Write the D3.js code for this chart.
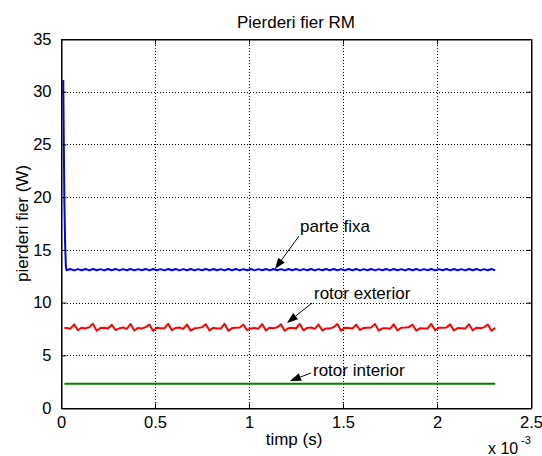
<!DOCTYPE html>
<html>
<head>
<meta charset="utf-8">
<script src="https://cdn.jsdelivr.net/npm/d3@7"></script>
<style>
  html, body { margin: 0; padding: 0; background: #fff; }
  svg { display: block; font-family: "Liberation Sans", Arial, sans-serif; }
</style>
</head>
<body>
<svg id="chart" width="542" height="456"></svg>
<script>
// ---- data (time in ms, i.e. axis units x 10^-3 s) ----
const xTickValues = [0, 0.5, 1, 1.5, 2, 2.5];
const xTickLabels = ["0", "0.5", "1", "1.5", "2", "2.5"];
const yTickValues = [0, 5, 10, 15, 20, 25, 30, 35];
const yTickLabels = ["0", "5", "10", "15", "20", "25", "30", "35"];

const sampleStart = 0.03, sampleStep = 0.02, sampleCount = 115;

// parte fixa: start transient
const blueStartT = [0.012, 0.015, 0.018, 0.022, 0.026];
const blueStartV = [31.1, 25.0, 19.5, 15.5, 13.4];
const blueValues = [
  13.06,13.18,13.05,13.17,13.06,13.19,13.05,13.18,13.06,13.17,
  13.05,13.18,13.06,13.19,13.05,13.17,13.06,13.18,13.05,13.17,
  13.06,13.19,13.05,13.18,13.06,13.17,13.05,13.18,13.06,13.19,
  13.05,13.17,13.06,13.18,13.05,13.17,13.06,13.19,13.05,13.18,
  13.06,13.17,13.05,13.18,13.06,13.19,13.05,13.17,13.06,13.18,
  13.05,13.17,13.06,13.19,13.05,13.18,13.06,13.17,13.05,13.18,
  13.06,13.19,13.05,13.17,13.06,13.18,13.05,13.17,13.06,13.19,
  13.05,13.18,13.06,13.17,13.05,13.18,13.06,13.19,13.05,13.17,
  13.06,13.18,13.05,13.17,13.06,13.19,13.05,13.18,13.06,13.17,
  13.05,13.18,13.06,13.19,13.05,13.17,13.06,13.18,13.05,13.17,
  13.06,13.19,13.05,13.18,13.06,13.17,13.05,13.18,13.06,13.19,
  13.05,13.17,13.06,13.18,13.05
];

// rotor exterior
const redStartT = [0.018];
const redStartV = [7.58];
const redValues = [
  7.58,7.52,7.93,7.37,7.62, 7.55,7.66,7.98,7.33,7.58,
  7.62,7.54,7.90,7.40,7.55, 7.64,7.50,7.96,7.35,7.60,
  7.54,7.67,7.92,7.32,7.62, 7.57,7.56,7.98,7.38,7.59,
  7.63,7.51,7.91,7.34,7.56, 7.60,7.65,7.95,7.36,7.61,
  7.55,7.53,7.99,7.32,7.58, 7.62,7.64,7.90,7.39,7.55,
  7.59,7.52,7.96,7.35,7.62, 7.56,7.66,7.93,7.33,7.57,
  7.61,7.54,7.97,7.37,7.60, 7.64,7.50,7.92,7.35,7.55,
  7.55,7.66,7.96,7.32,7.62, 7.58,7.53,7.91,7.40,7.59,
  7.62,7.64,7.98,7.34,7.56, 7.57,7.51,7.94,7.36,7.61,
  7.63,7.67,7.90,7.33,7.57, 7.55,7.55,7.97,7.38,7.60,
  7.60,7.64,7.93,7.35,7.58, 7.57,7.53,7.95,7.37,7.62,
  7.56,7.65,7.92,7.33,7.60
];

// rotor interior
const greenT = [0.018, 0.5, 1.0, 1.5, 2.0, 2.31];
const greenV = [2.3, 2.3, 2.3, 2.3, 2.3, 2.3];

const seriesNames = ["parte fixa", "rotor exterior", "rotor interior"];

// ---- layout ----
const svg = d3.select("#chart");
const L = 61, T = 39, R = 531, B = 408;
const x = d3.scaleLinear().domain([0, 2.5]).range([L, R]);
const y = d3.scaleLinear().domain([0, 35]).range([B, T]);

const sampleT = d3.range(sampleCount).map(i => +(sampleStart + i * sampleStep).toFixed(3));
const blue = blueStartT.map((t, i) => [t, blueStartV[i]]).concat(sampleT.map((t, i) => [t, blueValues[i]]));
const red = redStartT.map((t, i) => [t, redStartV[i]]).concat(sampleT.map((t, i) => [t, redValues[i]]));
const green = greenT.map((t, i) => [t, greenV[i]]);

// grid
const grid = svg.append("g");
xTickValues.slice(1, -1).forEach(v => {
  const px = Math.round(x(v)) + 0.5;
  grid.append("line").attr("x1", px).attr("x2", px).attr("y1", T).attr("y2", B)
    .attr("stroke", "#000").attr("stroke-width", 1).attr("stroke-dasharray", "1,2");
});
yTickValues.slice(1, -1).forEach(v => {
  const py = Math.round(y(v)) + 0.5;
  grid.append("line").attr("x1", L).attr("x2", R).attr("y1", py).attr("y2", py)
    .attr("stroke", "#000").attr("stroke-width", 1).attr("stroke-dasharray", "1,2");
});

// lines
const line = d3.line().x(d => x(d[0])).y(d => y(d[1]));
svg.append("path").datum(green).attr("d", line).attr("fill", "none").attr("stroke", "#008000").attr("stroke-width", 2);
svg.append("path").datum(red).attr("d", line).attr("fill", "none").attr("stroke", "#ff0000").attr("stroke-width", 2).attr("stroke-linejoin", "round");
svg.append("path").datum(blue).attr("d", line).attr("fill", "none").attr("stroke", "#0000ff").attr("stroke-width", 2).attr("stroke-linejoin", "round");

// axes (MATLAB style: inward ticks on all four sides)
const tickLen = 5;
const axB = svg.append("g").attr("transform", `translate(0,${B + 0.5})`)
  .call(d3.axisBottom(x).tickValues(xTickValues).tickFormat((d, i) => xTickLabels[i]).tickSizeInner(-tickLen).tickSizeOuter(0).tickPadding(8));
const axT = svg.append("g").attr("transform", `translate(0,${T + 0.5})`)
  .call(d3.axisTop(x).tickValues(xTickValues).tickFormat("").tickSizeInner(-tickLen).tickSizeOuter(0));
const axLft = svg.append("g").attr("transform", `translate(${L + 0.5},0)`)
  .call(d3.axisLeft(y).tickValues(yTickValues).tickFormat((d, i) => yTickLabels[i]).tickSizeInner(-tickLen).tickSizeOuter(0).tickPadding(10));
const axR = svg.append("g").attr("transform", `translate(${R + 0.5},0)`)
  .call(d3.axisRight(y).tickValues(yTickValues).tickFormat("").tickSizeInner(-tickLen).tickSizeOuter(0));
[axB, axT, axLft, axR].forEach(a => {
  a.selectAll("path.domain").attr("stroke", "#000").attr("stroke-width", 1);
  a.selectAll(".tick line").attr("stroke", "#000");
  a.selectAll("text").attr("font-size", 16.5).attr("fill", "#000").attr("font-family", "Liberation Sans, Arial, sans-serif");
});
// frame
svg.append("rect").attr("x", L + 0.5).attr("y", T + 0.5).attr("width", R - L).attr("height", B - T)
  .attr("fill", "none").attr("stroke", "#000").attr("stroke-width", 1);

// title and labels
svg.append("text").attr("x", (L + R) / 2).attr("y", 28).attr("text-anchor", "middle")
  .attr("font-size", 17).text("Pierderi fier RM");
svg.append("text").attr("x", (L + R) / 2 - 2).attr("y", 445).attr("text-anchor", "middle")
  .attr("font-size", 17).text("timp (s)");
svg.append("text").attr("transform", `translate(28,${(T + B) / 2}) rotate(-90)`).attr("text-anchor", "middle")
  .attr("font-size", 17).text("pierderi fier (W)");
svg.append("text").attr("x", 488).attr("y", 454).attr("font-size", 16).text("x 10");
svg.append("text").attr("x", 521).attr("y", 444).attr("font-size", 11).text("-3");

// annotations
const annos = [
  { name: seriesNames[0], tx: 300, ty: 232, x1: 299, y1: 236, x2: 275, y2: 269 },
  { name: seriesNames[1], tx: 314, ty: 299, x1: 312, y1: 303, x2: 287, y2: 323 },
  { name: seriesNames[2], tx: 313, ty: 376, x1: 311, y1: 373, x2: 290, y2: 381 }
];
annos.forEach(a => {
  svg.append("text").attr("x", a.tx).attr("y", a.ty).attr("font-size", 17).text(a.name);
  const ang = Math.atan2(a.y2 - a.y1, a.x2 - a.x1);
  const hl = 11, hw = 4;
  const bx = a.x2 - hl * Math.cos(ang), by = a.y2 - hl * Math.sin(ang);
  svg.append("line").attr("x1", a.x1).attr("y1", a.y1).attr("x2", bx).attr("y2", by)
    .attr("stroke", "#000").attr("stroke-width", 1);
  const px = -Math.sin(ang), py = Math.cos(ang);
  svg.append("path")
    .attr("d", `M${a.x2},${a.y2}L${bx + hw * px},${by + hw * py}L${bx - hw * px},${by - hw * py}Z`)
    .attr("fill", "#000");
});
</script>
</body>
</html>
